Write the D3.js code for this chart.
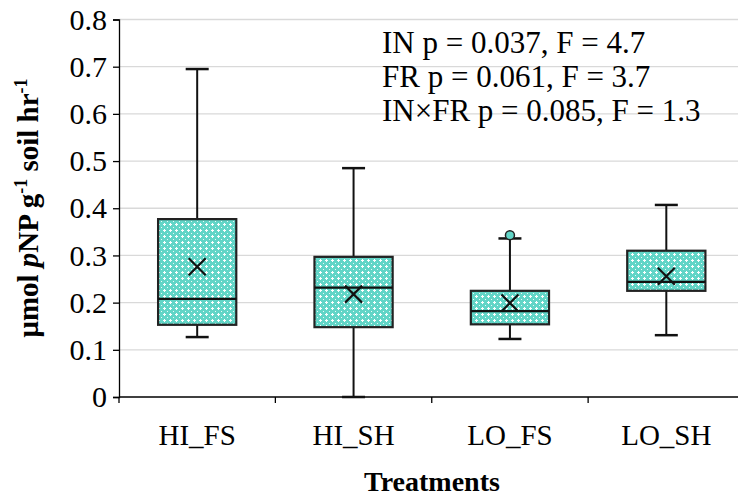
<!DOCTYPE html>
<html>
<head>
<meta charset="utf-8">
<script src="https://cdn.jsdelivr.net/npm/d3@7"></script>
<style>
  body { margin: 0; background: #fff; }
  svg { display: block; font-family: "Liberation Serif", "Times New Roman", serif; }
</style>
</head>
<body>
<svg id="chart" width="738" height="501"></svg>
<script>
// treatments and the five-number summaries
const treatments = ["HI_FS", "HI_SH", "LO_FS", "LO_SH"]
const whiskerLow = [0.127, 0.0, 0.123, 0.131]
const q1 = [0.153, 0.148, 0.154, 0.225]
const median = [0.208, 0.232, 0.182, 0.244]
const q3 = [0.377, 0.297, 0.225, 0.310]
const whiskerHigh = [0.695, 0.485, 0.336, 0.407]
const mean = [0.276, 0.218, 0.199, 0.256]
const outliers = [[], [], [0.343], []]

const yTicks = [0, 0.1, 0.2, 0.3, 0.4, 0.5, 0.6, 0.7, 0.8]
const statsLines = ["IN p = 0.037, F = 4.7", "FR p = 0.061, F = 3.7", "IN\u00d7FR p = 0.085, F = 1.3"]

const svg = d3.select("#chart")

// box fill pattern (teal with small white crosses)
const defs = svg.append("defs")
const pat = defs.append("pattern")
    .attr("id", "dots")
    .attr("width", 6)
    .attr("height", 6)
    .attr("patternUnits", "userSpaceOnUse")
pat.append("rect").attr("width", 6).attr("height", 6).attr("fill", "#62d5c7")
pat.append("rect").attr("x", 2).attr("y", 1).attr("width", 1).attr("height", 3).attr("fill", "#fff")
pat.append("rect").attr("x", 1).attr("y", 2).attr("width", 3).attr("height", 1).attr("fill", "#fff")
pat.append("rect").attr("x", 5).attr("y", 5).attr("width", 1).attr("height", 1).attr("fill", "#e8fbf8")

const x = d3.scaleBand()
    .domain(treatments)
    .range([119, 744.5])
    .padding(0)

const y = d3.scaleLinear()
    .domain([0, 0.8])
    .range([397, 19.5])

const boxW = x.bandwidth() * 0.5
const capW = 23

// gridlines
svg.append("g")
   .selectAll("line")
   .data(yTicks.filter(d => d > 0))
   .join("line")
   .attr("x1", 119)
   .attr("x2", 738)
   .attr("y1", d => y(d))
   .attr("y2", d => y(d))
   .attr("stroke", "#d9d9d9")
   .attr("stroke-width", 1.3)

// y axis
const yAxis = svg.append("g")
    .attr("transform", "translate(119,0)")
    .call(d3.axisLeft(y).tickValues(yTicks).tickSize(6).tickPadding(6)
        .tickFormat(d => d === 0 ? "0" : d.toFixed(1)))
yAxis.attr("font-family", null)
yAxis.selectAll("text").attr("font-size", 30).attr("fill", "#000")
yAxis.selectAll("line, path").attr("stroke", "#000").attr("stroke-width", 1.3)

// x axis: line, tick marks at band boundaries, labels centered
const xAxis = svg.append("g")
    .attr("transform", `translate(0,${y(0)})`)
xAxis.append("line")
     .attr("x1", 119).attr("x2", 738)
     .attr("stroke", "#000").attr("stroke-width", 1.3)
xAxis.selectAll(".bt")
     .data(treatments)
     .join("line")
     .attr("class", "bt")
     .attr("x1", d => x(d)).attr("x2", d => x(d))
     .attr("y1", 0).attr("y2", 6)
     .attr("stroke", "#000").attr("stroke-width", 1.3)
xAxis.selectAll(".lbl")
     .data(treatments)
     .join("text")
     .attr("class", "lbl")
     .attr("x", d => x(d) + x.bandwidth() / 2)
     .attr("y", 48)
     .attr("text-anchor", "middle")
     .attr("font-size", 29)
     .text(d => d)

// boxes
const g = svg.append("g")
treatments.forEach((t, i) => {
    const cx = x(t) + x.bandwidth() / 2
    // whiskers
    g.append("line")
     .attr("x1", cx).attr("x2", cx)
     .attr("y1", y(whiskerHigh[i])).attr("y2", y(q3[i]))
     .attr("stroke", "#111").attr("stroke-width", 2)
    g.append("line")
     .attr("x1", cx).attr("x2", cx)
     .attr("y1", y(q1[i])).attr("y2", y(whiskerLow[i]))
     .attr("stroke", "#111").attr("stroke-width", 2)
    ;[whiskerHigh[i], whiskerLow[i]].forEach(v => {
        g.append("line")
         .attr("x1", cx - capW / 2).attr("x2", cx + capW / 2)
         .attr("y1", y(v)).attr("y2", y(v))
         .attr("stroke", "#111").attr("stroke-width", 2.5)
    })
    // box
    g.append("rect")
     .attr("x", cx - boxW / 2)
     .attr("y", y(q3[i]))
     .attr("width", boxW)
     .attr("height", y(q1[i]) - y(q3[i]))
     .attr("fill", "url(#dots)")
     .attr("stroke", "#222")
     .attr("stroke-width", 2.2)
    // median
    g.append("line")
     .attr("x1", cx - boxW / 2).attr("x2", cx + boxW / 2)
     .attr("y1", y(median[i])).attr("y2", y(median[i]))
     .attr("stroke", "#111").attr("stroke-width", 2.2)
    // mean marker
    const m = 8.5
    g.append("path")
     .attr("d", `M${cx - m},${y(mean[i]) - m}L${cx + m},${y(mean[i]) + m}M${cx + m},${y(mean[i]) - m}L${cx - m},${y(mean[i]) + m}`)
     .attr("stroke", "#111").attr("stroke-width", 2.2)
    // outliers
    outliers[i].forEach(v => {
        g.append("circle")
         .attr("cx", cx).attr("cy", y(v))
         .attr("r", 4.5)
         .attr("fill", "#62d5c7")
         .attr("stroke", "#222")
         .attr("stroke-width", 1.5)
    })
})

// stats text
svg.append("g")
   .selectAll("text")
   .data(statsLines)
   .join("text")
   .attr("x", 382)
   .attr("y", (d, i) => 53 + i * 34)
   .attr("font-size", 31)
   .text(d => d)

// y label
const yl = svg.append("text")
    .attr("transform", "translate(38,208) rotate(-90)")
    .attr("text-anchor", "middle")
    .attr("font-size", 29)
    .attr("font-weight", "bold")
yl.append("tspan").text("\u03bcmol ")
yl.append("tspan").attr("font-style", "italic").text("p")
yl.append("tspan").text("NP g")
yl.append("tspan").attr("font-size", 18).attr("dy", -11).text("-1")
yl.append("tspan").attr("dy", 11).text(" soil hr")
yl.append("tspan").attr("font-size", 18).attr("dy", -11).text("-1")

// x label
svg.append("text")
   .attr("x", 432)
   .attr("y", 491)
   .attr("text-anchor", "middle")
   .attr("font-size", 28)
   .attr("font-weight", "bold")
   .text("Treatments")
</script>
</body>
</html>
